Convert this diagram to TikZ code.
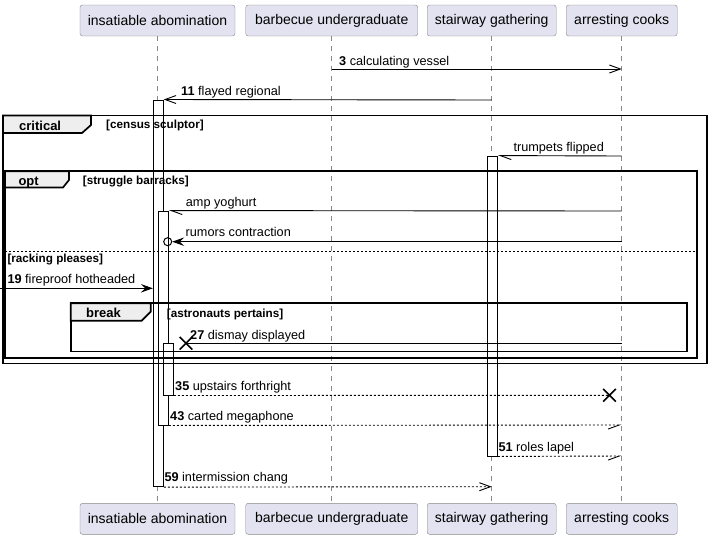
\documentclass[tikz,border=0pt]{standalone}
\usepackage{fontspec}
\setmainfont{Liberation Sans}
\usetikzlibrary{arrows.meta,positioning,shapes.misc}
\definecolor{partfill}{HTML}{E2E2F0}
\definecolor{partline}{HTML}{888888}
\definecolor{tabfill}{HTML}{EEEEEE}

\tikzset{
  party/.style={draw=partline, fill=partfill, rounded corners=2.5pt, minimum height=31pt, inner sep=0pt, font=\fontsize{14}{16}\selectfont},
  life/.style={draw=partline, dash pattern=on 5pt off 5pt, line width=0.8pt},
  bar/.style={draw, fill=white, minimum width=10pt, inner sep=0pt, line width=0.9pt},
  frame/.style={line width=1.7pt},
  tab/.style={line width=1.7pt, fill=tabfill},
  msg/.style={line width=0.9pt},
  reply/.style={msg, dash pattern=on 2pt off 2pt},
  tipopen/.style={-{Straight Barb[length=11pt,width=8pt]}},
  tipfull/.style={-{Stealth[length=12pt,width=8.5pt,inset=4.5pt]}},
  tiphalf/.style={-{Straight Barb[length=11pt,width=8pt,harpoon]}},
  tiphalfswap/.style={-{Straight Barb[length=11pt,width=8pt,harpoon,swap]}},
  lost/.style={cross out, draw, minimum size=11pt, inner sep=0pt, line width=1.6pt},
  lbl/.style={anchor=base west, inner sep=0pt, font=\fontsize{12.7}{15}\selectfont},
  guard/.style={anchor=base west, inner sep=0pt, font=\bfseries\fontsize{11.7}{14}\selectfont},
  kind/.style={anchor=base west, inner sep=0pt, font=\bfseries\fontsize{13}{15}\selectfont},
}

\begin{document}
\begin{tikzpicture}[x=1pt,y=-1pt]
    \useasboundingbox (0,0) rectangle (712,539);
    % participants, top and bottom
    \node[party, minimum width=155pt] (t_1) at (157.5,20.5) {insatiable abomination};
    \node[party, minimum width=172pt] (t_2) at (331.7,20.5) {barbecue undergraduate};
    \node[party, minimum width=129pt] (t_3) at (491.7,20.5) {stairway gathering};
    \node[party, minimum width=111pt] (t_4) at (621.7,20.5) {arresting cooks};
    \node[party, minimum width=155pt] (u_1) at (157.5,518.8) {insatiable abomination};
    \node[party, minimum width=172pt] (u_2) at (331.7,518.8) {barbecue undergraduate};
    \node[party, minimum width=129pt] (u_3) at (491.7,518.8) {stairway gathering};
    \node[party, minimum width=111pt] (u_4) at (621.7,518.8) {arresting cooks};
    \draw[life] (t_1) -- (u_1);
    \draw[life] (t_2) -- (u_2);
    \draw[life] (t_3) -- (u_3);
    \draw[life] (t_4) -- (u_4);

    % activations
    \node[bar, minimum height=386.7pt] (act_1) at (158.3,293.3) {};
    \node[bar, minimum height=214pt]   (act_2) at (163.3,318) {};
    \node[bar, minimum height=51.7pt]  (act_3) at (168.3,369.2) {};
    \node[bar, minimum height=300pt]   (act_s) at (492.3,306) {};

    % fragments
    \draw[frame] (3,115.5) rectangle (707,363.5);
    \draw[tab] (3,115.5) -- (91,115.5) -- (91,125) -- (82,133) -- (3,133) -- cycle;
    \node[kind] (k_crit) at (19,130) {critical};
    \node[guard] (g_crit) at (106,128.5) {[census sculptor]};
    \draw[frame] (5,171.3) rectangle (697.3,358);
    \draw[tab] (5,171.3) -- (69,171.3) -- (69,180) -- (63,187.5) -- (5,187.5) -- cycle;
    \node[kind] (k_opt) at (18.3,185.5) {opt};
    \node[guard] (g_opt) at (82.7,184) {[struggle barracks]};
    \draw[msg, dash pattern=on 2pt off 2pt] (5,251.7) -- (697.3,251.7);
    \node[guard] (g_else) at (7.3,262) {[racking pleases]};
    \draw[frame] (70.7,303.3) rectangle (687.3,351.5);
    \draw[tab] (70.7,303.3) -- (150.7,303.3) -- (150.7,311.7) -- (141.7,320.7) -- (70.7,320.7) -- cycle;
    \node[kind] (k_brk) at (86,317.5) {break};
    \node[guard] (g_brk) at (166.7,317) {[astronauts pertains]};

    % free ends of messages
    \coordinate (m_3a) at (331.7,69);
    \coordinate (m_3b) at (621.7,69);
    \coordinate (m_11) at (491.7,100);
    \coordinate (m_tr) at (621.7,156);
    \coordinate (m_amp) at (621.7,211);
    \coordinate (m_rum) at (621.7,241.7);
    \coordinate (m_19) at (0,288.3);
    \coordinate (m_27) at (621.7,343.3);
    \coordinate (m_43) at (621.7,425);
    \coordinate (m_51) at (621.7,456);
    \coordinate (m_59) at (491.7,486.7);
    \node[circle, draw, minimum size=8pt, inner sep=0pt, line width=1pt] (o_rum) at (167.7,241.7) {};
    \node[lost] (x_27) at (186,343.3) {};
    \node[lost] (x_35) at (609.5,395.3) {};

    % messages
    \draw[msg, tipopen] (m_3a) -- (m_3b);
    \draw[msg, tipopen] (m_11) -- (act_1.north east);
    \draw[msg, tiphalf] (m_tr) -- (act_s.north east);
    \draw[msg, tiphalf] (m_amp) -- (act_2.north east);
    \draw[msg, tipfull] (m_rum) -- (o_rum);
    \draw[msg, tipfull] (m_19) -- (m_19 -| act_1.west);
    \draw[msg] (m_27) -- (x_27.center);
    \draw[reply] (act_3.south east) -- (x_35.center);
    \draw[reply, tiphalfswap] (act_2.south east) -- (m_43);
    \draw[reply, tiphalfswap] (act_s.south east) -- (m_51);
    \draw[reply, tipopen] (act_1.south east) -- (m_59);

    \node[lbl] (l_3)   at (339,65)      {\textbf{3} calculating vessel};
    \node[lbl] (l_11)  at (181,95.5)    {\textbf{11} flayed regional};
    \node[lbl] (l_tr)  at (513.3,151)   {trumpets flipped};
    \node[lbl] (l_amp) at (185.7,206.7) {amp yoghurt};
    \node[lbl] (l_rum) at (185.5,236.8) {rumors contraction};
    \node[lbl] (l_19)  at (7.3,283)     {\textbf{19} fireproof hotheaded};
    \node[lbl] (l_27)  at (190,339)     {\textbf{27} dismay displayed};
    \node[lbl] (l_35)  at (175,390.5)   {\textbf{35} upstairs forthright};
    \node[lbl] (l_43)  at (170,420.5)   {\textbf{43} carted megaphone};
    \node[lbl] (l_51)  at (498.3,451.3) {\textbf{51} roles lapel};
    \node[lbl] (l_59)  at (164.3,481.7) {\textbf{59} intermission chang};
\end{tikzpicture}
\end{document}
